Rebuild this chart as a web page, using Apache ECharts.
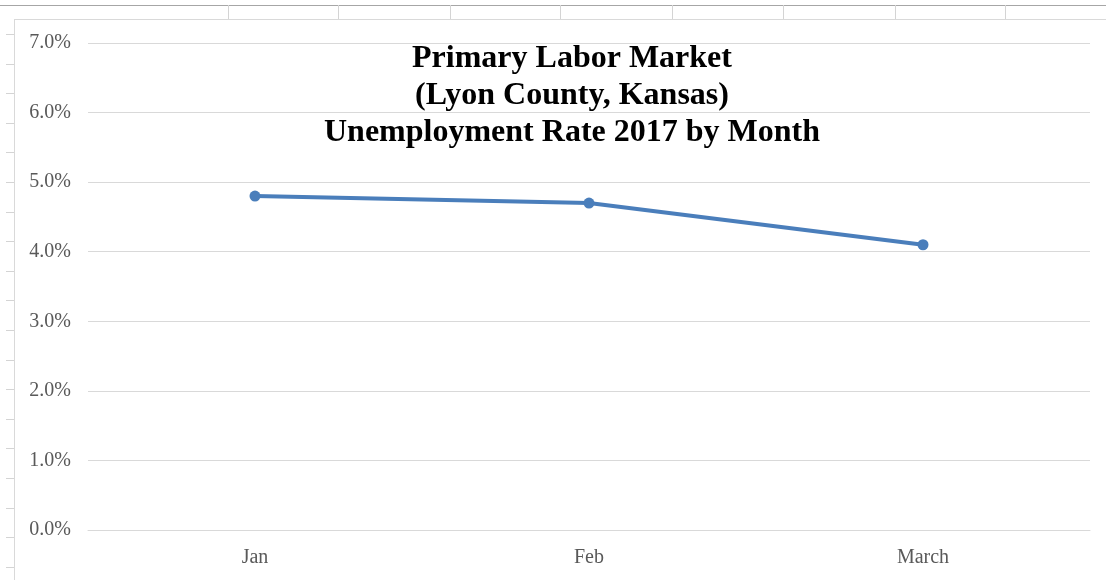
<!DOCTYPE html>
<html>
<head>
<meta charset="utf-8">
<script src="https://cdn.jsdelivr.net/npm/echarts@6/dist/echarts.min.js"></script>
<style>
html,body{margin:0;padding:0;background:#fff;}
#wrap{position:relative;width:1106px;height:580px;overflow:hidden;background:#fff;}
#chart{position:absolute;left:0;top:0;width:1106px;height:580px;}
.sheetTop{position:absolute;left:0;top:5px;width:1106px;height:1px;background:#a6a6a6;}
.col{position:absolute;top:5px;width:1px;height:14px;background:#d4d4d4;}
.row{position:absolute;left:6px;width:8px;height:1px;background:#d4d4d4;}
.chartBorderL{position:absolute;left:14px;top:19px;width:1px;height:561px;background:#d9d9d9;}
.chartBorderT{position:absolute;left:14px;top:19px;width:1092px;height:1px;background:#d9d9d9;}
</style>
</head>
<body>
<div id="wrap">
  <div class="sheetTop"></div>
  <div class="chartBorderL"></div>
  <div class="chartBorderT"></div>
  <div id="chart"></div>
</div>
<script>
// Data
const categories = ['Jan', 'Feb', 'March'];
const rateValues = [4.8, 4.7, 4.1];
const yTicks = [0, 1, 2, 3, 4, 5, 6, 7];
const titleLines = ['Primary Labor Market', '(Lyon County, Kansas)', 'Unemployment Rate 2017 by Month'];

// spreadsheet decoration
const wrap = document.getElementById('wrap');
[228, 338, 450, 560, 672, 783, 895, 1005].forEach(function (x) {
  const d = document.createElement('div'); d.className = 'col'; d.style.left = x + 'px'; wrap.appendChild(d);
});
for (let i = 0; i < 19; i++) {
  const d = document.createElement('div'); d.className = 'row'; d.style.top = Math.round(34 + i * 29.6) + 'px'; wrap.appendChild(d);
}

const chart = echarts.init(document.getElementById('chart'), null, {renderer: 'canvas'});
chart.setOption({
  backgroundColor: 'transparent',
  animation: false,
  title: {
    text: titleLines.join('\n'),
    left: 567,
    textAlign: 'center',
    top: 35,
    textStyle: {
      fontFamily: 'Liberation Serif',
      fontWeight: 'bold',
      fontSize: 32,
      lineHeight: 37,
      color: '#000'
    }
  },
  grid: {left: 88, right: 16, top: 43, bottom: 50, containLabel: false},
  xAxis: {
    type: 'category',
    data: categories,
    boundaryGap: true,
    axisLine: {show: true, lineStyle: {color: '#d9d9d9', width: 1}},
    axisTick: {show: false},
    axisLabel: {
      fontFamily: 'Liberation Serif',
      fontSize: 20,
      color: '#595959',
      margin: 18
    },
    splitLine: {show: false}
  },
  yAxis: {
    type: 'value',
    min: yTicks[0],
    max: yTicks[yTicks.length - 1],
    interval: 1,
    axisLine: {show: false},
    axisTick: {show: false},
    axisLabel: {
      fontFamily: 'Liberation Serif',
      fontSize: 20,
      color: '#595959',
      margin: 17,
      formatter: function (v) { return v.toFixed(1) + '%'; }
    },
    splitLine: {show: true, lineStyle: {color: '#d9d9d9', width: 1}}
  },
  series: [{
    type: 'line',
    data: rateValues,
    symbol: 'circle',
    symbolSize: 11,
    lineStyle: {color: '#4a7ebb', width: 4},
    itemStyle: {color: '#4a7ebb'}
  }]
});
</script>
</body>
</html>
